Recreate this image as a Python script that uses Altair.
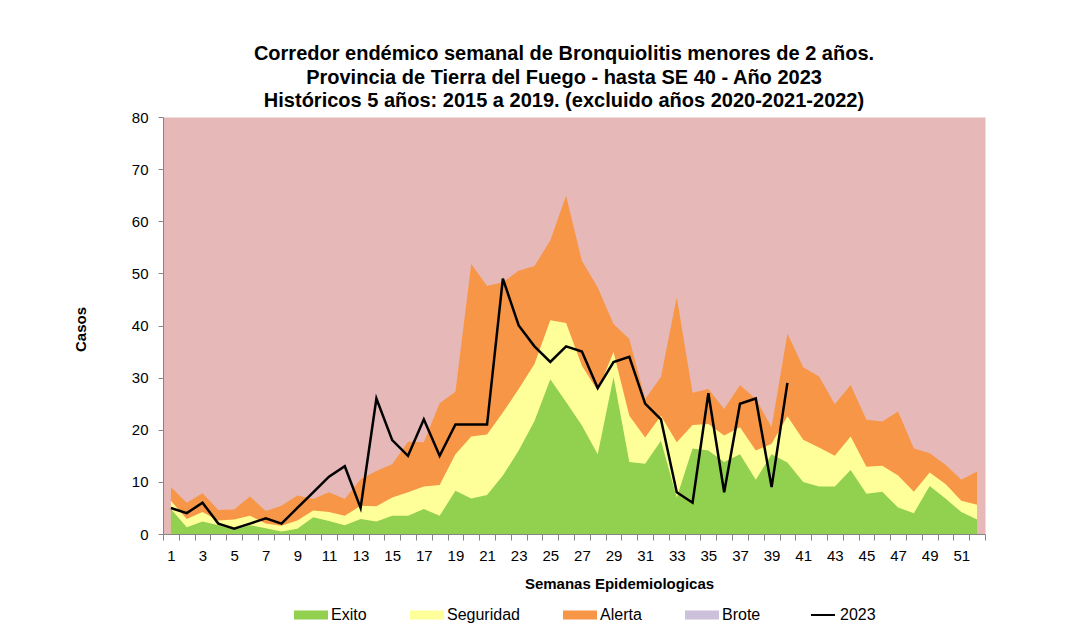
import altair as alt
import pandas as pd

weeks = list(range(1, 53))
exito = [4.8, 1.3, 2.4, 1.7, 0.8, 1.7, 1.1, 0.5, 1.0, 3.2, 2.5, 1.7, 2.9,
         2.4, 3.5, 3.5, 4.8, 3.5, 8.3, 6.8, 7.5, 11.2, 16.0, 21.7, 29.7, 25.3,
         20.8, 15.3, 30.1, 13.8, 13.5, 17.9, 7.0, 16.4, 16.0, 13.8, 15.3, 10.4,
         15.3, 13.7, 10.0, 9.1, 9.1, 12.3, 7.7, 8.1, 5.1, 4.0, 9.2, 6.8, 4.2, 2.8]
seguridad = [6.4, 2.9, 4.2, 2.6, 2.8, 3.5, 2.0, 1.6, 2.6, 4.5, 4.2, 3.5, 5.4,
             5.3, 7.0, 8.0, 9.1, 9.4, 15.3, 18.7, 19.1, 23.3, 27.8, 32.6, 41.0, 40.5,
             32.3, 27.5, 34.9, 22.7, 18.5, 22.7, 17.6, 20.9, 21.1, 18.9, 20.5, 16.0,
             17.3, 22.6, 18.1, 16.6, 15.0, 18.7, 12.9, 13.1, 11.2, 8.1, 11.8, 9.6, 6.4, 5.6]
alerta = [9.0, 6.0, 7.8, 4.6, 4.7, 7.2, 4.4, 5.4, 7.4, 6.7, 8.0, 6.7, 10.5,
          12.1, 13.4, 17.7, 17.6, 25.1, 27.3, 51.8, 47.6, 48.3, 50.5, 51.4, 56.3, 64.9,
          52.4, 47.3, 40.3, 37.4, 25.9, 30.1, 45.4, 27.1, 27.8, 24.0, 28.6, 25.9,
          20.5, 38.4, 32.0, 30.2, 24.9, 28.6, 21.9, 21.6, 23.5, 16.4, 15.5, 13.3, 10.4, 12.0]
weeks_2023 = list(range(1, 41))
casos_2023 = [5, 4, 6, 2, 1, 2, 3, 2, 5, 8, 11, 13, 5, 26, 18, 15, 22, 15, 21, 21,
              21, 49, 40, 36, 33, 36, 35, 28, 33, 34, 25, 22, 8, 6, 27, 8, 25, 26, 9, 29]

categories = ["Exito", "Seguridad", "Alerta", "Brote"]
cat_colors = ["#92D050", "#FFFF99", "#F79646", "#CCC0DA"]

df = pd.DataFrame({"semana": weeks, "Exito": exito, "Seguridad": seguridad, "Alerta": alerta})
df23 = pd.DataFrame({"semana": weeks_2023, "casos": casos_2023})

FONT = "Liberation Sans"
AXIS_GREY = "#868686"

x_axis = alt.Axis(
    values=[i / 2 for i in range(1, 106)],
    labelExpr="datum.value % 2 == 1 ? format(datum.value, 'd') : ''",
    tickOpacity={"condition": {"test": "datum.value % 1 == 0", "value": 0}, "value": 1},
    tickSize=6, tickColor=AXIS_GREY, domainColor=AXIS_GREY,
    labelOverlap=False, labelFlush=False, labelFontSize=15, labelColor="black",
    labelPadding=8, labelFont=FONT,
    title="Semanas Epidemiologicas", titleFontSize=15, titleFontWeight="bold",
    titleFont=FONT, titleColor="black", titleX=456, titlePadding=13, grid=False,
)
y_axis = alt.Axis(
    values=list(range(0, 81, 10)), tickSize=5, tickColor=AXIS_GREY, domainColor=AXIS_GREY,
    labelFontSize=15, labelColor="black", labelPadding=10, labelFont=FONT,
    title="Casos", titleFontSize=15, titleFontWeight="bold", titleFont=FONT,
    titleColor="black", titleX=-83, titleY=212, titleBaseline="middle", grid=False,
)
x_scale = alt.Scale(domain=[0.5, 52.5], nice=False, zero=False)
y_scale = alt.Scale(domain=[0, 80], nice=False)

fill_scale = alt.Scale(domain=categories, range=cat_colors)
fill_legend = alt.Legend(
    title=None, orient="none", legendX=128, legendY=490, direction="horizontal",
    symbolType="M-1,-0.9L5.8,-0.9L5.8,0.9L-1,0.9Z", symbolSize=100, symbolOpacity=1,
    symbolStrokeWidth=0, labelOffset=24, columnPadding=40,
    labelFont=FONT, labelFontSize=16, labelColor="black",
)


def area(field):
    return alt.Chart(df).transform_calculate(serie=f"'{field}'").mark_area(
        opacity=1, interpolate="linear"
    ).encode(
        x=alt.X("semana:Q", scale=x_scale, axis=x_axis),
        y=alt.Y(f"{field}:Q", scale=y_scale, axis=y_axis),
        fill=alt.Fill("serie:N", scale=fill_scale, legend=fill_legend),
    )


line = alt.Chart(df23).transform_calculate(anio="'2023'").mark_line(strokeWidth=2.5).encode(
    x=alt.X("semana:Q", scale=x_scale, axis=x_axis),
    y=alt.Y("casos:Q", scale=y_scale, axis=y_axis),
    stroke=alt.Stroke(
        "anio:N",
        scale=alt.Scale(domain=["2023"], range=["black"]),
        legend=alt.Legend(
            title=None, orient="none", legendX=647, legendY=485, direction="horizontal",
            symbolType="stroke", symbolSize=576, symbolStrokeWidth=2,
            labelOffset=4, labelFont=FONT, labelFontSize=16, labelColor="black",
        ),
    ),
)

chart = alt.layer(area("Alerta"), area("Seguridad"), area("Exito"), line).properties(
    width=822, height=417,
    padding={"left": 65, "top": 36, "right": 10, "bottom": 5},
    title=alt.Title(
        ["Corredor endémico semanal de Bronquiolitis menores de 2 años.",
         "Provincia de Tierra del Fuego - hasta SE 40 - Año 2023",
         "Históricos 5 años: 2015 a 2019. (excluido años 2020-2021-2022)"],
        font=FONT, fontSize=20, fontWeight="bold", lineHeight=23.5, color="black",
        anchor="middle", frame="group", offset=-1, dx=-10,
    ),
).configure(
    background="white",
    view=alt.ViewConfig(fill="#E6B8B7", stroke="transparent"),
)

chart.save("out.html", embed_options={"renderer": "svg", "actions": False})
